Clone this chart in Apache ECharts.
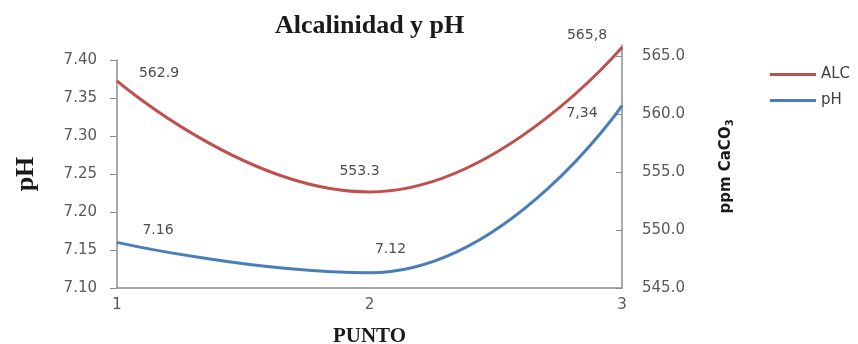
<!DOCTYPE html>
<html>
<head>
<meta charset="utf-8">
<script src="https://cdn.jsdelivr.net/npm/echarts@6/dist/echarts.min.js"></script>
<style>html,body{margin:0;padding:0;background:#fff}#c{width:858px;height:344px}</style>
</head>
<body>
<div id="c"></div>
<script>
const categories = ['1', '2', '3'];
const alcValues = [562.9, 553.3, 565.8];
const phValues = [7.16, 7.12, 7.34];
const alcLabels = ['562.9', '553.3', '565,8'];
const phLabels = ['7.16', '7.12', '7,34'];

const alcLabelOffset = [[42, 0], [-10, -13], [-35, -4]];
const phLabelOffset = [[41, -5], [21, -16], [-40, 15]];

const chart = echarts.init(document.getElementById('c'), null, {renderer: 'canvas'});
const sans = 'DejaVu Sans';
const serif = 'Liberation Serif';
const axisGrey = '#8c8c8c';

chart.setOption({
  backgroundColor: '#ffffff',
  animation: false,
  title: {
    text: 'Alcalinidad y pH',
    left: 270, top: 8,
    textStyle: {fontFamily: serif, fontWeight: 'bold', fontSize: 26, color: '#1a1a1a'}
  },
  legend: {
    orient: 'vertical',
    left: 765, top: 62,
    itemWidth: 46, itemHeight: 3, itemGap: 11,
    icon: 'rect',
    data: ['ALC', 'pH'],
    textStyle: {fontFamily: sans, fontSize: 15, color: '#404040'}
  },
  grid: [
    {left: 117, right: 236, top: 60, bottom: 56, outerBoundsMode: 'none', containLabel: false},
    {left: 117, right: 236, top: 45, bottom: 56, outerBoundsMode: 'none', containLabel: false}
  ],
  xAxis: [
    {
      type: 'category', gridIndex: 0, data: categories, boundaryGap: false,
      name: 'PUNTO', nameLocation: 'middle', nameGap: 38,
      nameTextStyle: {fontFamily: serif, fontWeight: 'bold', fontSize: 21, color: '#1a1a1a'},
      axisLine: {lineStyle: {color: axisGrey, width: 1.5}},
      axisTick: {show: false},
      axisLabel: {fontFamily: sans, fontSize: 15, color: '#595959', margin: 10}
    },
    {type: 'category', gridIndex: 1, data: categories, boundaryGap: false, show: false}
  ],
  yAxis: [
    {
      type: 'value', gridIndex: 0, position: 'left',
      min: 7.10, max: 7.40, interval: 0.05,
      name: 'pH', nameLocation: 'middle', nameGap: 78,
      nameTextStyle: {fontFamily: serif, fontWeight: 'bold', fontSize: 26, color: '#1a1a1a'},
      axisLine: {show: true, lineStyle: {color: axisGrey, width: 1.5}},
      axisTick: {show: true, length: 7, lineStyle: {color: axisGrey}},
      splitLine: {show: false},
      axisLabel: {fontFamily: sans, fontSize: 15, color: '#595959', margin: 20,
        formatter: v => v.toFixed(2)}
    },
    {
      type: 'value', gridIndex: 1, position: 'right',
      min: 545, max: 566, interval: 5,
      name: '{a|ppm CaCO}{b|3}', nameLocation: 'middle', nameGap: 95,
      nameTextStyle: {
        rich: {
          a: {fontFamily: sans, fontWeight: 'bold', fontSize: 15, color: '#1a1a1a'},
          b: {fontFamily: sans, fontWeight: 'bold', fontSize: 10, color: '#1a1a1a', padding: [8, 0, 0, 0]}
        }
      },
      axisLine: {show: true, lineStyle: {color: axisGrey, width: 1.5}},
      axisTick: {show: true, inside: true, length: 6, lineStyle: {color: axisGrey}},
      splitLine: {show: false},
      axisLabel: {fontFamily: sans, fontSize: 15, color: '#595959', margin: 20, showMaxLabel: false,
        formatter: v => v.toFixed(1)}
    }
  ],
  series: [
    {
      name: 'ALC', type: 'line', xAxisIndex: 1, yAxisIndex: 1,
      smooth: true, symbol: 'circle', symbolSize: 1,
      itemStyle: {color: '#C0504D'},
      lineStyle: {color: '#C0504D', width: 3},
      label: {show: true, position: 'top', distance: 0, fontFamily: sans, fontSize: 14, color: '#4d4d4d',
        formatter: p => alcLabels[p.dataIndex]},
      data: alcValues.map((v, i) => ({value: v, label: {offset: alcLabelOffset[i]}}))
    },
    {
      name: 'pH', type: 'line', xAxisIndex: 0, yAxisIndex: 0,
      smooth: true, symbol: 'circle', symbolSize: 1,
      itemStyle: {color: '#4A7EBB'},
      lineStyle: {color: '#4A7EBB', width: 3},
      label: {show: true, position: 'top', distance: 0, fontFamily: sans, fontSize: 14, color: '#4d4d4d',
        formatter: p => phLabels[p.dataIndex]},
      data: phValues.map((v, i) => ({value: v, label: {offset: phLabelOffset[i]}}))
    }
  ]
});
</script>
</body>
</html>
